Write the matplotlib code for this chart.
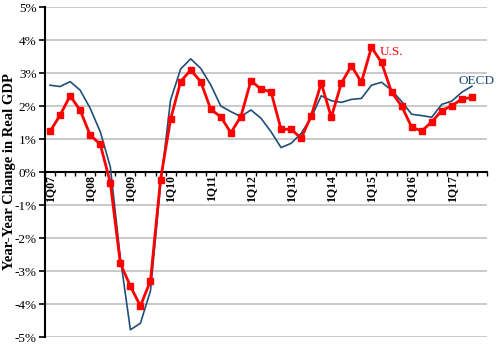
import numpy as np
import matplotlib
matplotlib.use("Agg")
import matplotlib.pyplot as plt
from matplotlib.ticker import FuncFormatter, FixedLocator


#-- data (year-over-year % change in real GDP)
quarters = [f"{q}Q{y:02d}" for y in range(7, 18) for q in range(1, 5)][:43]

us = [1.23, 1.72, 2.31, 1.87, 1.12, 0.84, -0.32, -2.77, -3.46, -4.06,
      -3.29, -0.23, 1.60, 2.74, 3.09, 2.74, 1.90, 1.67, 1.19, 1.68,
      2.77, 2.51, 2.43, 1.29, 1.30, 1.02, 1.70, 2.69, 1.66, 2.69,
      3.22, 2.72, 3.78, 3.32, 2.42, 2.00, 1.36, 1.24, 1.52, 1.86,
      2.01, 2.21, 2.26]

oecd = [2.63, 2.59, 2.74, 2.48, 1.93, 1.22, 0.16, -2.60, -4.78, -4.58,
        -3.60, -0.40, 2.18, 3.12, 3.43, 3.14, 2.64, 2.00, 1.83, 1.68,
        1.88, 1.63, 1.22, 0.74, 0.87, 1.17, 1.65, 2.31, 2.16, 2.11,
        2.20, 2.23, 2.63, 2.72, 2.48, 2.14, 1.75, 1.71, 1.66, 2.05,
        2.15, 2.42, 2.60]

year_labels = ["1Q07", "1Q08", "1Q09", "1Q10", "1Q11", "1Q12",
               "1Q13", "1Q14", "1Q15", "1Q16", "1Q17"]
n_cats = 44   # 1Q07 .. 4Q17 on the category axis


#--
fig = plt.figure(figsize=(5, 3.5), dpi=100)
ax = fig.add_axes([0.09, 0.037, 0.884, 0.943])
serif = "Liberation Serif"

x = np.arange(len(us))
ax.plot(x, oecd, color="#1f4e79", linewidth=1.2, zorder=3)
ax.plot(x, us, color="#ff0000", linewidth=2.0, marker="s", markersize=4.5, zorder=4)

ax.set_xlim(-0.5, n_cats - 0.5)
ax.set_ylim(-5, 5)

# y axis
ax.set_yticks(np.arange(-5, 6, 1))
ax.yaxis.set_major_formatter(FuncFormatter(lambda v, p: f"{v:.0f}%"))
ax.grid(axis="y", color="#c0c0c0", linewidth=1.2, zorder=0)
ax.tick_params(axis="y", direction="out", length=4, width=1.2, labelsize=9.5, pad=2)
for t in ax.get_yticklabels():
    t.set_fontfamily(serif)
ax.set_ylabel("Year-Year Change in Real GDP", fontfamily=serif, fontweight="bold",
              fontsize=10.5)
ax.yaxis.set_label_coords(-0.066, 0.5)

# category axis sitting at 0%
ax.spines["bottom"].set_position(("data", 0))
ax.spines["bottom"].set_linewidth(1.5)
ax.spines["left"].set_linewidth(1.5)
ax.spines["top"].set_visible(False)
ax.spines["right"].set_visible(False)
ax.xaxis.set_major_locator(FixedLocator(np.arange(n_cats + 1) - 0.5))
ax.xaxis.set_major_formatter(FuncFormatter(lambda v, p: ""))
ax.xaxis.set_minor_locator(FixedLocator([quarters.index(q) for q in year_labels]))
ax.set_xticklabels(year_labels, minor=True)
ax.tick_params(axis="x", which="major", direction="out", length=3, width=1.0)
ax.tick_params(axis="x", which="minor", length=0, pad=2, labelsize=8.5)
for t in ax.get_xticklabels(minor=True):
    t.set_rotation(90)
    t.set_fontfamily(serif)
    t.set_fontweight("bold")
    t.set_va("top")

# series names
ax.text(32.8, 3.64, "U.S.", color="#ff0000", fontfamily=serif, fontsize=9.5, va="center")
ax.text(40.7, 2.76, "OECD", color="#1f4e79", fontfamily=serif, fontsize=9.5, va="center")

fig.savefig("out.png", dpi=100)
